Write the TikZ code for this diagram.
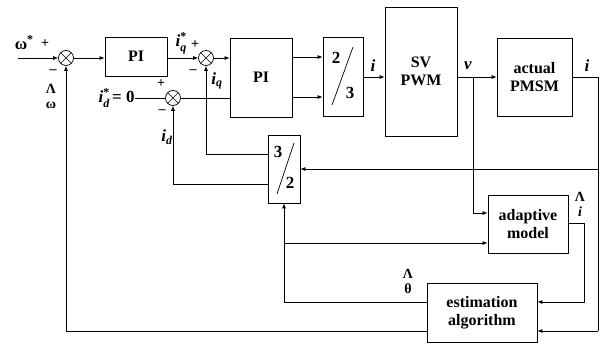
\documentclass[tikz,border=0pt]{standalone}
\usepackage{fontspec}
\setmainfont{Liberation Serif}
\usetikzlibrary{arrows.meta}
\newcommand\supsub[3]{#1\makebox[0pt][l]{\raisebox{-5pt}{\fontsize{12}{12}\selectfont #3}}\raisebox{6pt}{\fontsize{12}{12}\selectfont #2}}
\begin{document}
\begin{tikzpicture}[x=1pt,y=-1pt,
  line width=0.7pt,
  blk/.style={draw, line width=0.8pt, inner sep=0pt, align=center,
    font=\bfseries\fontsize{16}{18}\selectfont},
  sumj/.style={draw, circle, line width=0.7pt, minimum size=15pt, inner sep=0pt,
    path picture={\draw[line width=0.7pt] (path picture bounding box.north west)--(path picture bounding box.south east)
      (path picture bounding box.north east)--(path picture bounding box.south west);}},
  arr/.style={-{Latex[length=5pt,width=4pt]}},
  lbl/.style={inner sep=0pt, font=\bfseries\fontsize{17}{19}\selectfont},
  sgn/.style={inner sep=0pt, font=\bfseries\fontsize{14}{16}\selectfont},
  hatl/.style={inner sep=0pt, align=center, font=\bfseries\fontsize{14}{15}\selectfont},
  frac/.style={inner sep=0pt, font=\bfseries\fontsize{17}{19}\selectfont}]
\useasboundingbox (0,0) rectangle (606,351);

% blocks
\node[blk, minimum width=62pt, minimum height=39pt] (pi1) at (136,56.5) {PI};
\node[blk, minimum width=62pt, minimum height=79pt] (pi2) at (261,77.5) {PI};
\node[blk, minimum width=40pt, minimum height=79pt] (b23) at (343,76.5) {};
\node[blk, minimum width=72pt, minimum height=129pt] (sv) at (421,71.5) {SV\\PWM};
\node[blk, minimum width=75pt, minimum height=78pt] (pmsm) at (534.5,77) {actual\\PMSM};
\node[blk, minimum width=32pt, minimum height=68pt] (b32) at (284,169) {};
\node[blk, minimum width=80pt, minimum height=58pt] (adapt) at (528,224) {adaptive\\model};
\node[blk, minimum width=110pt, minimum height=59pt] (est) at (482,312.5) {estimation\\algorithm};

% fraction contents
\node[frac] (n2a) at (336,58) {2};
\node[frac] (n3a) at (350,93) {3};
\draw (353,47) -- (332,105);
\node[frac] (n3b) at (278,152) {3};
\node[frac] (n2b) at (290,183) {2};
\draw (294,143) -- (277,194);

% summing junctions
\node[sumj] (s1) at (66,58) {};
\node[sumj] (s2) at (206,58) {};
\node[sumj] (s3) at (173,98) {};

% coordinates
\coordinate (in) at (18,58);
\coordinate (vb) at (473,77);
\coordinate (va) at (473,213);
\coordinate (ir) at (598,77);
\coordinate (ib) at (598,169);
\coordinate (ibot) at (598,331);
\coordinate (ae) at (584,223);
\coordinate (ad) at (584,302);
\coordinate (tc) at (284,302);
\coordinate (tb) at (284,243);
\coordinate (wc) at (66,331);
\coordinate (q1) at (206,154);
\coordinate (d1) at (173,184);
\coordinate (y57) at (0,57);
\coordinate (y97) at (0,97);
\coordinate (y77) at (0,77);

% forward path
\draw[arr] (in) -- (s1);
\draw[arr] (s1) -- (s1 -| pi1.west);
\draw[arr] (pi1.east |- s2) -- (s2);
\draw[arr] (s2) -- (s2 -| pi2.west);
\draw (s3) -- (s3 -| pi2.west);
\draw[arr] (pi2.east |- y57) -- (b23.west |- y57);
\draw[arr] (pi2.east |- y97) -- (b23.west |- y97);
\draw[arr] (b23.east |- y77) -- (sv.west |- y77);
\draw[arr] (sv.east |- y77) -- (pmsm.west |- y77);
\draw (pmsm.east |- ir) -- (ir) -- (ibot);
\draw[arr] (ibot) -- (est.east |- ibot);
\draw[arr] (ib) -- (b32.east |- ib);
\draw[arr] (vb) -- (va) -- (adapt.west |- va);
\draw[arr] (adapt.east |- ae) -- (ae) -- (ad) -- (est.east |- ad);
\draw[arr] (est.west |- ad) -- (tc) -- (b32.south);
\draw[arr] (tb) -- (adapt.west |- tb);
\draw[arr] (est.west |- wc) -- (wc) -- (s1.south);
\draw[arr] (b32.west |- q1) -- (q1) -- (s2.south);
\draw[arr] (b32.west |- d1) -- (d1) -- (s3.south);

% labels
\node[lbl] (lw) at (24,45) {\supsub{ω}{*}{}};
\node[sgn] (p1) at (45,44) {+};
\node[sgn] (m1) at (53,72) {–};
\node[hatl] (wh) at (51,96) {Λ\\ω};
\node[lbl] (liq) at (181,43) {\supsub{\textit{i}}{*}{\textit{q}}};
\node[sgn] (p2) at (195,45) {+};
\node[sgn] (m2) at (193,72) {–};
\node[lbl, anchor=east] (lid) at (135,98) {\supsub{\textit{i}}{*}{\textit{d}}\,= 0};
\draw (lid.east) -- (s3);
\node[sgn] (p3) at (161,84) {+};
\node[sgn] (m3) at (162,112) {–};
\node[lbl] (iq) at (217,81) {\textit{i}\textsubscript{\textit{q}}};
\node[lbl] (id) at (167,137) {\textit{i}\textsubscript{\textit{d}}};
\node[lbl] (li1) at (373,66) {\textit{i}};
\node[lbl] (lv) at (468,66) {\textit{v}};
\node[lbl] (li2) at (587,66) {\textit{i}};
\node[hatl] (ih) at (580,204) {Λ\\\textit{i}};
\node[hatl] (th) at (408,281) {Λ\\θ};
\end{tikzpicture}
\end{document}
